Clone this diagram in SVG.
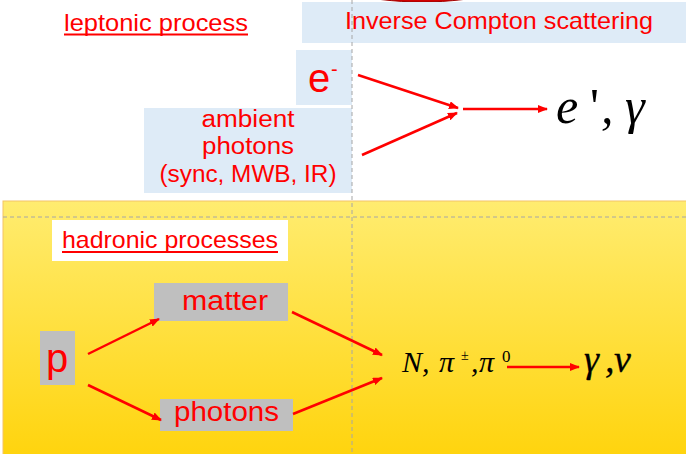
<svg xmlns="http://www.w3.org/2000/svg" width="686" height="454" viewBox="0 0 686 454">
  <style>
    .lbl { font-family: "Liberation Sans", Arial, sans-serif; fill: #FF0000; }
    .math { font-family: "Liberation Serif", "Times New Roman", serif; font-style: italic; fill: #000000; }
    .up { font-style: normal; }
    .blue { fill: #DEEBF7; }
    .gray { fill: #BFBFBF; }
    .arrow { stroke: #FF0000; stroke-width: 2.5; fill: none; marker-end: url(#ah); }
    .dash { stroke: #A6A6A6; stroke-width: 1; stroke-dasharray: 4 3; fill: none; }
    .ul { stroke: #FF0000; stroke-width: 1.8; }
  </style>
  <defs>
    <linearGradient id="yg" x1="0" y1="0" x2="0" y2="1">
      <stop offset="0" stop-color="#FFEC70"/>
      <stop offset="1" stop-color="#FFD40E"/>
    </linearGradient>
    <marker id="ah" markerUnits="userSpaceOnUse" markerWidth="10" markerHeight="8" refX="9" refY="4" orient="auto">
      <path d="M0,0 L10,4 L0,8 z" fill="#FF0000"/>
    </marker>
  </defs>

  <rect width="686" height="454" fill="#FFFFFF"/>

  <!-- top red sliver -->
  <ellipse cx="422" cy="-30" rx="106" ry="32" fill="#D00000" stroke="#A00000" stroke-width="1"/>

  <!-- yellow hadronic region -->
  <rect x="3" y="201" width="684" height="254" fill="url(#yg)" stroke="#F3C466" stroke-width="1"/>

  <g id="ic-title">
    <rect x="302" y="2" width="384" height="41" class="blue"/>
    <text x="345" y="29" class="lbl" font-size="24" textLength="308" lengthAdjust="spacingAndGlyphs">Inverse Compton scattering</text>
  </g>

  <g id="leptonic-title">
    <text x="64" y="31" class="lbl" font-size="24" textLength="184" lengthAdjust="spacingAndGlyphs">leptonic process</text>
    <line x1="64" y1="34.5" x2="248" y2="34.5" class="ul"/>
  </g>

  <g id="electron">
    <rect x="296" y="50" width="56" height="55" class="blue"/>
    <text x="308" y="92" class="lbl" font-size="40">e</text>
    <text x="331" y="76" class="lbl" font-size="20">-</text>
  </g>

  <g id="ambient-photons">
    <rect x="144" y="108" width="208" height="85" class="blue"/>
    <text x="248" y="127" class="lbl" font-size="23" text-anchor="middle" textLength="93" lengthAdjust="spacingAndGlyphs">ambient</text>
    <text x="248" y="154" class="lbl" font-size="23" text-anchor="middle" textLength="92" lengthAdjust="spacingAndGlyphs">photons</text>
    <text x="248" y="182" class="lbl" font-size="23" text-anchor="middle" textLength="177" lengthAdjust="spacingAndGlyphs">(sync, MWB, IR)</text>
  </g>

  <g id="ic-products">
    <text y="123" class="math" font-size="50"><tspan x="556">e</tspan><tspan x="590" class="up">'</tspan><tspan x="601">,</tspan><tspan x="625">γ</tspan></text>
  </g>

  <g id="hadronic-title">
    <rect x="52" y="220" width="236" height="41" fill="#FFFFFF"/>
    <text x="62" y="248" class="lbl" font-size="24" textLength="216" lengthAdjust="spacingAndGlyphs">hadronic processes</text>
    <line x1="62" y1="252" x2="278" y2="252" class="ul"/>
  </g>

  <g id="proton">
    <rect x="40" y="331" width="35" height="54" class="gray"/>
    <text x="46" y="372" class="lbl" font-size="40">p</text>
  </g>

  <g id="matter">
    <rect x="154" y="283" width="134" height="38" class="gray"/>
    <text x="182" y="310" class="lbl" font-size="27" textLength="86" lengthAdjust="spacingAndGlyphs">matter</text>
  </g>

  <g id="photons">
    <rect x="160" y="399" width="133" height="32" class="gray"/>
    <text x="174" y="421" class="lbl" font-size="27" textLength="105" lengthAdjust="spacingAndGlyphs">photons</text>
  </g>

  <g id="hadron-products">
    <text y="372" class="math" font-size="30"><tspan x="402">N,</tspan><tspan x="439">π</tspan><tspan x="471">,</tspan><tspan x="479">π</tspan></text>
    <text x="461" y="360" class="math up" font-size="14">±</text>
    <text x="502" y="362" class="math up" font-size="17">0</text>
  </g>

  <g id="final-products">
    <text y="372" class="math" font-size="38" stroke="#000" stroke-width="0.3"><tspan x="584">γ</tspan><tspan x="605">,</tspan><tspan x="614">ν</tspan></text>
  </g>

  <g id="guides">
    <line x1="352" y1="0" x2="352" y2="454" class="dash"/>
    <line x1="3" y1="217" x2="686" y2="217" class="dash"/>
  </g>

  <g id="connectors">
    <line x1="358" y1="75" x2="458" y2="108" class="arrow"/>
    <line x1="362" y1="155" x2="457" y2="113" class="arrow"/>
    <line x1="463" y1="109" x2="547" y2="109" class="arrow"/>
    <line x1="88" y1="354" x2="159" y2="319" class="arrow"/>
    <line x1="88" y1="385" x2="161" y2="420" class="arrow"/>
    <line x1="292" y1="312" x2="382" y2="355" class="arrow"/>
    <line x1="293" y1="414" x2="382" y2="378" class="arrow"/>
    <line x1="507" y1="367" x2="579" y2="367" class="arrow"/>
  </g>
</svg>
